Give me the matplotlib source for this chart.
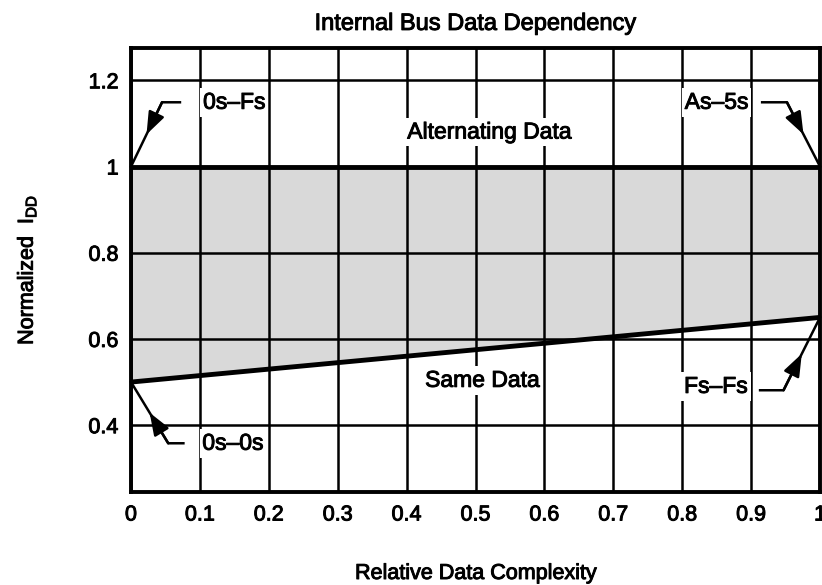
import matplotlib
matplotlib.use("Agg")
import matplotlib.pyplot as plt
import matplotlib.patheffects as pe
import numpy as np

plt.rcParams['font.family'] = ['Liberation Sans', 'DejaVu Sans']
plt.rcParams['mathtext.fontset'] = 'custom'
plt.rcParams['mathtext.rm'] = 'Liberation Sans'

# Data
complexity = [0.0, 1.0]
alternating = [1.0, 1.0]
same = [0.5, 0.65]
xticks = [0, 0.1, 0.2, 0.3, 0.4, 0.5, 0.6, 0.7, 0.8, 0.9, 1]
xticklabels = ['0', '0.1', '0.2', '0.3', '0.4', '0.5', '0.6', '0.7', '0.8', '0.9', '1']
yticks = [0.4, 0.6, 0.8, 1.0, 1.2]
yticklabels = ['0.4', '0.6', '0.8', '1', '1.2']

fig = plt.figure(figsize=(8.22, 5.85), dpi=100)
ax = fig.add_axes([0.1594, 0.159, 0.8382, 0.759])
ax.set_xlim(0, 1)
ax.set_ylim(0.245, 1.275)

thick = [pe.withStroke(linewidth=0.7, foreground='black')]

# shaded region
ax.fill_between(complexity, same, alternating, color='#d9d9d9', zorder=1, lw=0)

# grid
for x in xticks:
    ax.axvline(x, color='black', lw=1.8, zorder=2)
for y in yticks:
    ax.axhline(y, color='black', lw=1.8, zorder=2)

ax.plot(complexity, alternating, color='black', lw=3.5, zorder=4, solid_capstyle='butt')
ax.plot(complexity, same, color='black', lw=3.5, zorder=4, solid_capstyle='butt')

ax.set_xticks(xticks)
ax.set_xticklabels(xticklabels)
ax.set_yticks(yticks)
ax.set_yticklabels(yticklabels)
ax.tick_params(length=0, labelsize=15.5, pad=9)
for lab in ax.get_xticklabels() + ax.get_yticklabels():
    lab.set_path_effects(thick)
for s in ax.spines.values():
    s.set_linewidth(2.8)
    s.set_zorder(5)

t = ax.set_title('Internal Bus Data Dependency', fontsize=17, pad=13)
t.set_path_effects(thick)
xl = ax.set_xlabel('Relative Data Complexity', fontsize=15.5, labelpad=27)
xl.set_path_effects(thick)
yl = ax.set_ylabel(r'Normalized  I$_{\rm DD}$', fontsize=15.5, labelpad=36)
yl.set_path_effects(thick)

box = dict(facecolor='white', edgecolor='none', pad=2)
def label(x, y, s):
    ax.text(x, y, s, ha='center', va='center', fontsize=16.5, bbox=box, zorder=6,
            path_effects=thick)

label(0.15, 1.149, '0s–Fs')
label(0.85, 1.149, 'As–5s')
label(0.52, 1.08, 'Alternating Data')
label(0.51, 0.504, 'Same Data')
label(0.148, 0.358, '0s–0s')
label(0.849, 0.49, 'Fs–Fs')

def leader(start, corner, end):
    ax.plot([start[0], corner[0], end[0]], [start[1], corner[1], end[1]],
            color='black', lw=1.8, zorder=7, clip_on=False)
    mid = ((corner[0] + end[0]) / 2, (corner[1] + end[1]) / 2)
    ax.annotate('', xy=mid, xytext=corner,
                arrowprops=dict(arrowstyle='-|>,head_length=0.8,head_width=0.3',
                                mutation_scale=17, color='black', lw=1.8,
                                shrinkA=0, shrinkB=0), zorder=7)

leader((0.071, 1.149), (0.045, 1.149), (0.0, 1.0))
leader((0.916, 1.149), (0.952, 1.149), (1.0, 1.0))
leader((0.076, 0.358), (0.054, 0.358), (0.0, 0.5))
leader((0.913, 0.481), (0.947, 0.481), (1.0, 0.65))

fig.savefig('out.png', dpi=100)
